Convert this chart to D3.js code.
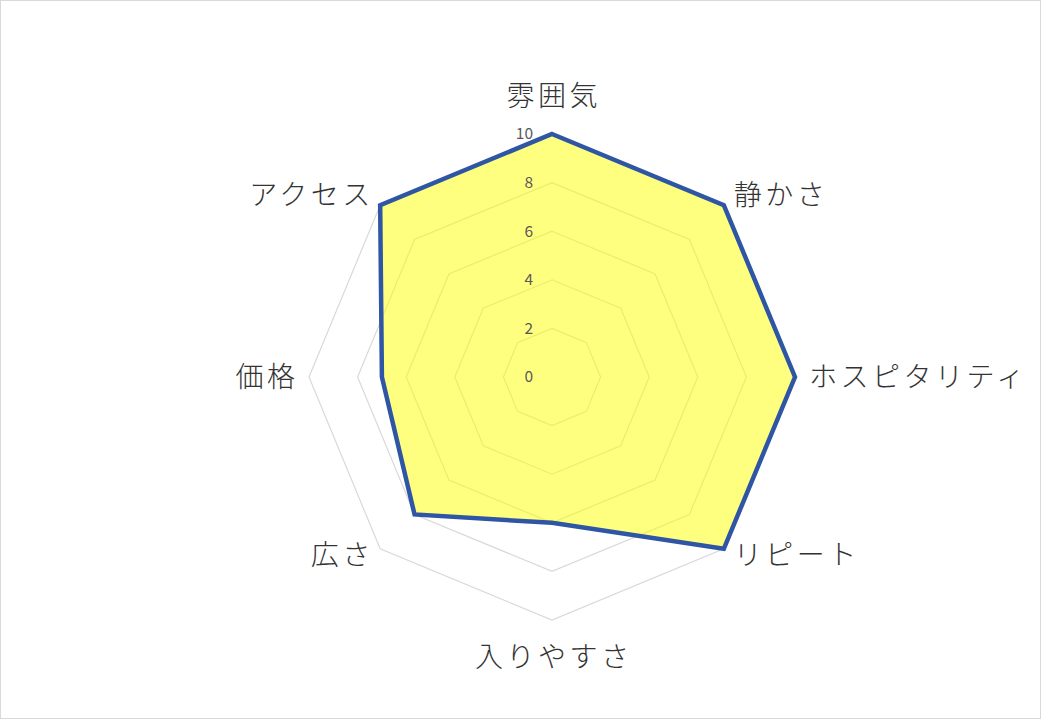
<!DOCTYPE html>
<html>
<head>
<meta charset="utf-8">
<script src="https://cdn.jsdelivr.net/npm/d3@7"></script>
<style>
  body { margin: 0; background: #fff; }
  text { font-family: "Noto Sans CJK JP", "Noto Sans", sans-serif; }
</style>
</head>
<body>
<svg id="chart"></svg>
<script>
const vWidth = 1042
const vHeight = 720

const categories = ['雰囲気', '静かさ', 'ホスピタリティ', 'リピート', '入りやすさ', '広さ', '価格', 'アクセス']
const scores = [10, 10, 10, 10, 6, 8, 7, 10]
const ticks = [0, 2, 4, 6, 8, 10]

const cx = 552
const cy = 377
const radius = 243
const spacing = 3.5

const svg = d3.select('#chart')
  .attr('width', vWidth)
  .attr('height', vHeight)

svg.append('rect')
  .attr('x', 0.5)
  .attr('y', 0.5)
  .attr('width', vWidth - 2)
  .attr('height', vHeight - 2)
  .attr('fill', '#fff')
  .attr('stroke', '#d9d9d9')

const r = d3.scaleLinear().domain([0, 10]).range([0, radius])
const angle = d3.scaleLinear().domain([0, categories.length]).range([0, 2 * Math.PI])

const g = svg.append('g').attr('transform', `translate(${cx},${cy})`)

const radial = d3.lineRadial()
  .angle((d, i) => angle(i))
  .radius((d) => r(d))
  .curve(d3.curveLinearClosed)

// grid octagons
g.selectAll('path.grid')
  .data(ticks.filter((t) => t > 0))
  .enter()
  .append('path')
  .attr('class', 'grid')
  .attr('d', (t) => radial(categories.map(() => t)))
  .attr('fill', 'none')
  .attr('stroke', '#d9d9d9')
  .attr('stroke-width', 1.2)

// series
g.append('path')
  .attr('d', radial(scores))
  .attr('fill', 'rgba(255,255,0,0.5)')
  .attr('stroke', '#2f55a5')
  .attr('stroke-width', 4.5)
  .attr('stroke-linejoin', 'miter')

// tick labels
g.selectAll('text.tick')
  .data(ticks)
  .enter()
  .append('text')
  .attr('class', 'tick')
  .attr('x', -19)
  .attr('y', (t) => -r(t))
  .attr('dy', '0.35em')
  .attr('text-anchor', 'end')
  .attr('font-size', '15.5px')
  .attr('fill', '#595959')
  .text((t) => t)

// category labels
g.selectAll('text.cat')
  .data(categories)
  .enter()
  .append('text')
  .attr('class', 'cat')
  .each(function (d, i) {
    const a = angle(i)
    const s = Math.sin(a)
    const c = Math.cos(a)
    let x = (radius + 14) * s
    let y = -(radius + 14) * c
    let anchor = 'middle'
    let dy = '0.35em'
    if (s > 0.1) anchor = 'start'
    else if (s < -0.1) { anchor = 'end'; x += spacing }
    else x += spacing / 2
    if (Math.abs(s) < 0.1) {
      if (c > 0) { y = -(radius + 28); dy = '0' }
      else { y = radius + 23; dy = '0.85em' }
    } else if (c < -0.1) {
      y -= 4
    }
    d3.select(this).attr('x', x).attr('y', y).attr('dy', dy).attr('text-anchor', anchor)
  })
  .attr('font-size', '28px')
  .attr('font-weight', 300)
  .attr('letter-spacing', spacing + 'px')
  .attr('fill', '#333')
  .text((d) => d)
</script>
</body>
</html>
